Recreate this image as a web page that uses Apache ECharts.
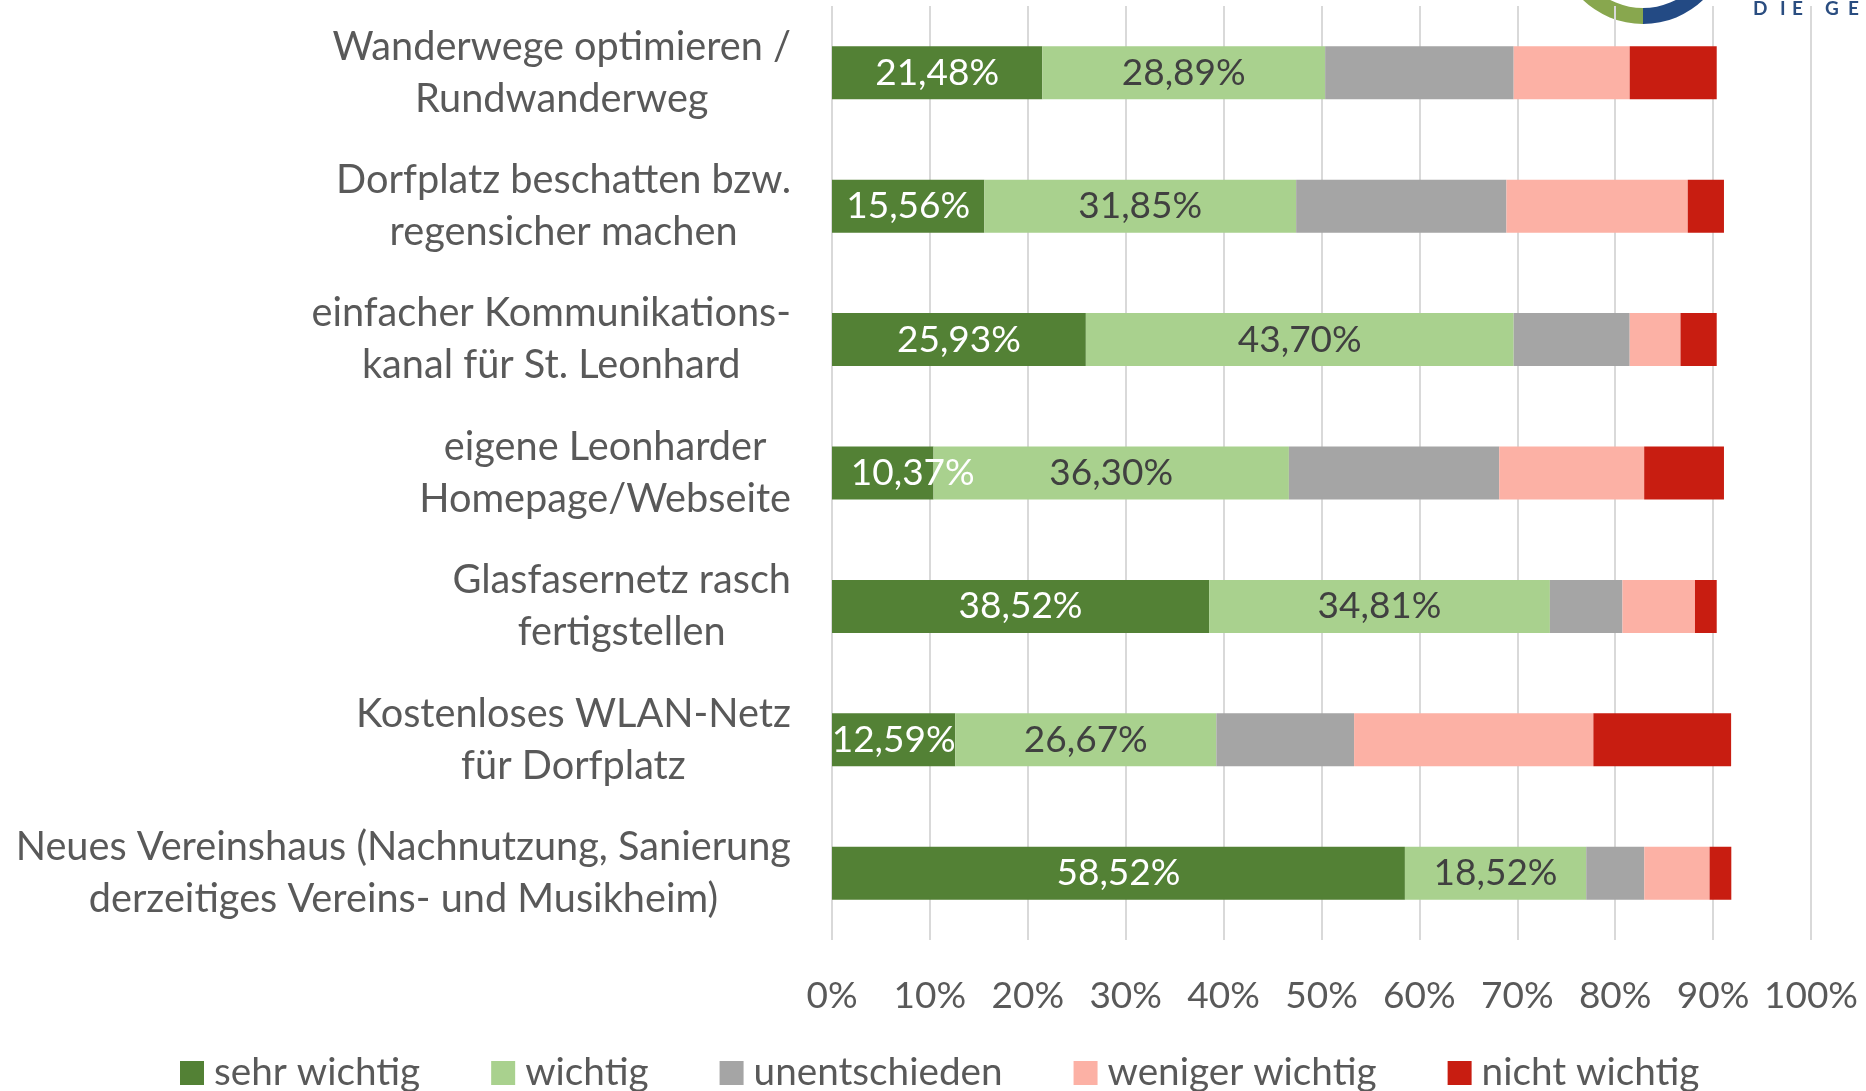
<!DOCTYPE html>
<html>
<head>
<meta charset="utf-8">
<script src="https://cdn.jsdelivr.net/npm/echarts@6/dist/echarts.min.js"></script>
<style>
html,body{margin:0;padding:0;background:#fff;}
#c{width:1866px;height:1091px;}
</style>
</head>
<body>
<div id="c"></div>
<script>
const categories = [
  "Wanderwege optimieren /\nRundwanderweg",
  "Dorfplatz beschatten bzw.\nregensicher machen",
  "einfacher Kommunikations-\nkanal für St. Leonhard",
  "eigene Leonharder\nHomepage/Webseite",
  "Glasfasernetz rasch\nfertigstellen",
  "Kostenloses WLAN-Netz\nfür Dorfplatz",
  "Neues Vereinshaus (Nachnutzung, Sanierung\nderzeitiges Vereins- und Musikheim)"
];
const seriesNames = ["sehr wichtig", "wichtig", "unentschieden", "weniger wichtig", "nicht wichtig"];
const sehrWichtig    = [21.48, 15.56, 25.93, 10.37, 38.52, 12.59, 58.52];
const wichtig        = [28.89, 31.85, 43.70, 36.30, 34.81, 26.67, 18.52];
const unentschieden  = [19.26, 21.48, 11.85, 21.48,  7.41, 14.07,  5.93];
const wenigerWichtig = [11.85, 18.52,  5.19, 14.81,  7.41, 24.44,  6.67];
const nichtWichtig   = [ 8.89,  3.70,  3.70,  8.15,  2.22, 14.07,  2.22];
const xTicks = [0, 10, 20, 30, 40, 50, 60, 70, 80, 90, 100];

const colors = ["#538135", "#A9D18E", "#A5A5A5", "#FCB1A5", "#C81D11"];
const FONT = "Lato";
const TXT = "#595959";

const seriesData = [sehrWichtig, wichtig, unentschieden, wenigerWichtig, nichtWichtig];
const labelColors = ["#FFFFFF", "#404040", null, null, null];
// manual label nudge (as in the original): series 0, category index 3
const labelNudge = {"0-3": [30, 0]};

const chart = echarts.init(document.getElementById('c'), null, {renderer: 'canvas'});

const series = seriesData.map((d, i) => ({
  name: seriesNames[i],
  type: 'bar',
  stack: 'total',
  barWidth: 53,
  data: d.map((v, j) => labelNudge[i + '-' + j] ? {value: v, label: {offset: labelNudge[i + '-' + j]}} : v),
  itemStyle: {color: colors[i]},
  emphasis: {disabled: true},
  label: {
    show: labelColors[i] !== null,
    position: 'inside',
    color: labelColors[i] || '#000',
    fontFamily: FONT,
    fontSize: 37,
    formatter: p => p.value.toFixed(2).replace('.', ',') + '%'
  }
}));

const logoLetters = [["D",1753],["I",1780],["E",1792],["G",1825],["E",1848]];

chart.setOption({
  animation: false,
  backgroundColor: '#fff',
  textStyle: {fontFamily: FONT},
  grid: {left: 832, right: 55, top: 6, bottom: 151, containLabel: false},
  xAxis: {
    type: 'value',
    min: xTicks[0],
    max: xTicks[xTicks.length - 1],
    interval: 10,
    axisLine: {show: false},
    axisTick: {show: false},
    splitLine: {show: true, lineStyle: {color: '#D9D9D9', width: 2}},
    axisLabel: {
      color: TXT, fontFamily: FONT, fontSize: 37, margin: 38,
      formatter: v => v + '%'
    }
  },
  yAxis: {
    type: 'category',
    inverse: true,
    data: categories,
    axisLine: {show: false},
    axisTick: {show: false},
    axisLabel: {
      margin: 41,
      align: 'right',
      color: TXT,
      fontFamily: FONT,
      fontSize: 39.7,
      lineHeight: 52,
      formatter: v => v.split('\n').map(s => '{c|' + s + '}').join('\n'),
      rich: {c: {align: 'center', color: TXT, fontFamily: FONT, fontSize: 39.7, lineHeight: 52}}
    }
  },
  legend: {
    left: 175,
    top: 1048,
    itemWidth: 24,
    itemHeight: 24,
    itemGap: 71,
    icon: 'rect',
    selectedMode: false,
    textStyle: {color: TXT, fontFamily: FONT, fontSize: 38.7, lineHeight: 40, padding: [0, 0, 0, 5]},
    data: seriesNames
  },
  graphic: [
    {type: 'sector', z: -10, shape: {cx: 1643, cy: -63, r: 87, r0: 71, startAngle: Math.PI/2, endAngle: Math.PI}, style: {fill: '#88A74E'}},
    {type: 'sector', z: -10, shape: {cx: 1643, cy: -63, r: 87, r0: 71, startAngle: 0, endAngle: Math.PI/2}, style: {fill: '#234A84'}}
  ].concat(logoLetters.map(([t, x]) => ({
    type: 'text', z: -10, left: x, top: -1,
    style: {text: t, fill: '#2A4D80', font: 'bold 19px Lato'}
  }))),
  series: series
});
</script>
</body>
</html>
